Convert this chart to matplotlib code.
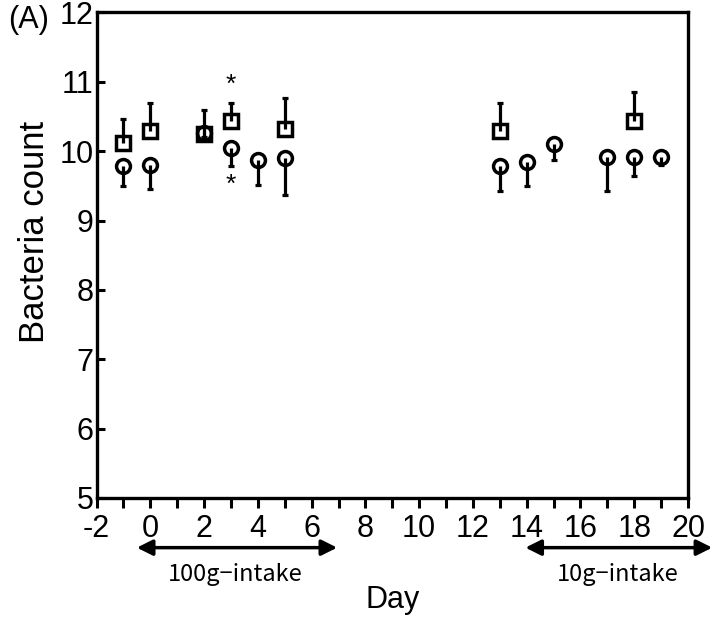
import numpy as np
import matplotlib
matplotlib.use("Agg")
import matplotlib.pyplot as plt

plt.rcParams["font.family"] = ["Liberation Sans", "DejaVu Sans"]
plt.rcParams["axes.unicode_minus"] = False

# group 1 (squares): upper error bars
days_sq = [-1, 0, 2, 3, 5, 13, 18]
mean_sq = [10.12, 10.29, 10.25, 10.43, 10.32, 10.29, 10.43]
err_sq = [0.34, 0.41, 0.34, 0.27, 0.45, 0.40, 0.43]

# group 2 (circles): lower error bars
days_ci = [-1, 0, 2, 3, 4, 5, 13, 14, 15, 17, 18, 19]
mean_ci = [9.79, 9.80, 10.26, 10.05, 9.87, 9.90, 9.79, 9.85, 10.10, 9.91, 9.91, 9.91]
err_ci = [0.29, 0.34, 0.05, 0.26, 0.36, 0.53, 0.36, 0.35, 0.23, 0.49, 0.27, 0.11]

# significance marks
star_x = [3, 3]
star_y = [10.95, 9.51]

# intake periods (start, end, label)
periods = [(-0.5, 6.95, "100g−intake"), (13.95, 20.9, "10g−intake")]

fig = plt.figure(figsize=(7.15, 6.17), dpi=100)
ax = fig.add_axes([0.135, 0.1929, 0.8273, 0.7869])

lw = 2.3
ms = 10


def one_sided(ax, x, y, e, up, marker):
    zeros = np.zeros(len(e))
    yerr = [zeros, e] if up else [e, zeros]
    _, caps, _ = ax.errorbar(x, y, yerr=yerr, fmt="none", ecolor="black",
                             elinewidth=lw, capsize=2.4, capthick=lw, zorder=2)
    # hide the caps sitting on the zero-length side
    caps[0 if up else 1].set_visible(False)
    ax.plot(x, y, linestyle="none", marker=marker, ms=ms, mew=2.5,
            mec="black", fillstyle="none", zorder=3)


one_sided(ax, days_sq, mean_sq, err_sq, True, "s")
one_sided(ax, days_ci, mean_ci, err_ci, False, "o")

for sx, sy in zip(star_x, star_y):
    ax.text(sx, sy, "*", ha="center", va="center", fontsize=19)

ax.set_xlim(-2, 20)
ax.set_ylim(5, 12)
ax.set_xticks(np.arange(-2, 21, 2))
ax.set_xticks(np.arange(-2, 21, 1), minor=True)
ax.set_yticks(np.arange(5, 13, 1))

for s in ax.spines.values():
    s.set_linewidth(2.4)

ax.tick_params(axis="x", which="both", direction="out", length=7.2, width=2.2,
               labelsize=22, pad=4)
ax.tick_params(axis="y", which="both", direction="in", length=6, width=2.2,
               labelsize=22, pad=2)

ax.set_xlabel("Day", fontsize=22, labelpad=30)
ax.set_ylabel("Bacteria count", fontsize=25)
ax.yaxis.set_label_coords(-0.077, 0.548)

for x0, x1, label in periods:
    ax.annotate("", xy=(x0, 4.284), xytext=(x1, 4.284),
                arrowprops=dict(arrowstyle="<|-|>,head_length=0.94,head_width=0.47",
                                color="black", lw=2.5, shrinkA=0, shrinkB=0,
                                mutation_scale=10),
                annotation_clip=False)
    ax.text((x0 + x1) / 2 - 0.05, 3.897, label, ha="center", va="center",
            fontsize=17, family=["Noto Sans CJK JP", "DejaVu Sans"], clip_on=False)

fig.text(0.011, 0.968, "(A)", fontsize=22, ha="left", va="center")

fig.savefig("out.png", dpi=100)
